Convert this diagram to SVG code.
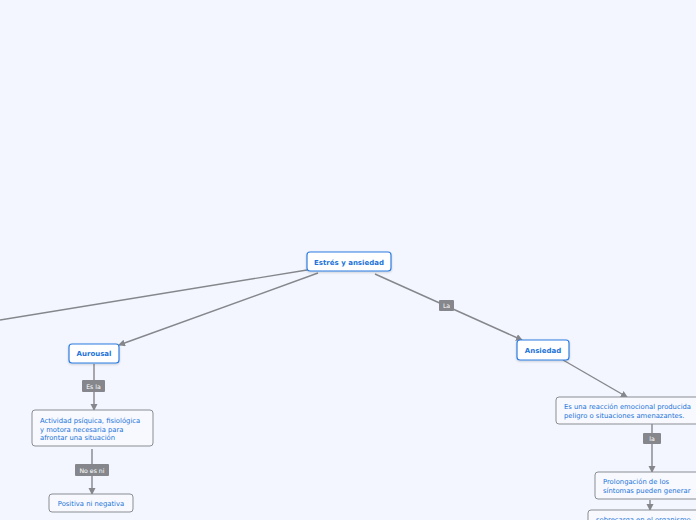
<svg xmlns="http://www.w3.org/2000/svg" width="696" height="520" viewBox="0 0 696 520">
<style>
.bg{fill:#f3f6fe}
.main{fill:#fff;stroke:#2f7de1;stroke-width:1.2}
.sub{fill:#f7f9fe;stroke:#8a8d94;stroke-width:1}
.mt{font-family:"DejaVu Sans",Verdana,sans-serif;font-size:7px;font-weight:bold;fill:#2173d9}
.st{font-family:"DejaVu Sans",Verdana,sans-serif;font-size:6.8px;fill:#2173d9}
.ln{stroke:#85878c;stroke-width:1.4;fill:none}
.lb{fill:#85878c}
.lt{font-family:"DejaVu Sans",Verdana,sans-serif;font-size:6.2px;fill:#fff;text-anchor:middle}
</style>
<defs>
<marker id="ar" markerWidth="8" markerHeight="8" refX="6" refY="3.5" orient="auto" markerUnits="userSpaceOnUse">
<path d="M0,0 L7,3.5 L0,7 Z" fill="#85878c"/>
</marker>
<filter id="sh" x="-10%" y="-20%" width="120%" height="150%">
<feDropShadow dx="0" dy="1" stdDeviation="0.8" flood-color="#000" flood-opacity="0.18"/>
</filter>
</defs>
<rect class="bg" x="0" y="0" width="696" height="520"/>
<g id="connectors">
<path class="ln" d="M307,270 L0,320"/>
<path class="ln" d="M318,273 L119,345" marker-end="url(#ar)"/>
<path class="ln" d="M375,274 L522,340" marker-end="url(#ar)"/>
<rect class="lb" x="439" y="300" width="15" height="11" rx="1"/>
<text class="lt" x="446.5" y="308">La</text>
<path class="ln" d="M563,360 L627,397" marker-end="url(#ar)"/>
<path class="ln" d="M94,364 L94,410" marker-end="url(#ar)"/>
<rect class="lb" x="82" y="380" width="23" height="12" rx="1"/>
<text class="lt" x="93.5" y="388.5">Es la</text>
<path class="ln" d="M92,449 L92,494" marker-end="url(#ar)"/>
<rect class="lb" x="75" y="464" width="34" height="12" rx="1"/>
<text class="lt" x="92" y="472.5">No es ni</text>
<path class="ln" d="M652,414 L652,472" marker-end="url(#ar)"/>
<rect class="lb" x="643" y="433" width="18" height="11" rx="1"/>
<text class="lt" x="652" y="441">la</text>
<path class="ln" d="M650,500 L650,510" marker-end="url(#ar)"/>
</g>
<g id="root">
<rect class="main" x="307" y="252" width="84" height="19" rx="3" filter="url(#sh)"/>
<text class="mt" x="349" y="264.5" text-anchor="middle">Estrés y ansiedad</text>
</g>
<g id="aurousal">
<rect class="main" x="69" y="344" width="50" height="19" rx="3" filter="url(#sh)"/>
<text class="mt" x="94" y="356" text-anchor="middle">Aurousal</text>
</g>
<g id="ansiedad">
<rect class="main" x="517" y="340" width="52" height="20" rx="3" filter="url(#sh)"/>
<text class="mt" x="543" y="352.5" text-anchor="middle">Ansiedad</text>
</g>
<g id="actividad">
<rect class="sub" x="32" y="410" width="121" height="36" rx="3"/>
<text class="st" x="40" y="423">Actividad psíquica, fisiológica</text>
<text class="st" x="40" y="431.5">y motora necesaria para</text>
<text class="st" x="40" y="440">afrontar una situación</text>
</g>
<g id="positiva">
<rect class="sub" x="49" y="494" width="84" height="18" rx="3"/>
<text class="st" x="91" y="505.5" text-anchor="middle">Positiva ni negativa</text>
</g>
<g id="reaccion">
<rect class="sub" x="556" y="397" width="150" height="27" rx="3"/>
<text class="st" x="564" y="409">Es una reacción emocional producida</text>
<text class="st" x="564" y="418">peligro o situaciones amenazantes.</text>
</g>
<g id="prolongacion">
<rect class="sub" x="595" y="472" width="110" height="27" rx="3"/>
<text class="st" x="603" y="484">Prolongación de los</text>
<text class="st" x="603" y="493">síntomas pueden generar</text>
</g>
<g id="sobrecarga">
<rect class="sub" x="588" y="510" width="120" height="20" rx="3"/>
<text class="st" x="596" y="522">sobrecarga en el organismo</text>
</g>
</svg>
